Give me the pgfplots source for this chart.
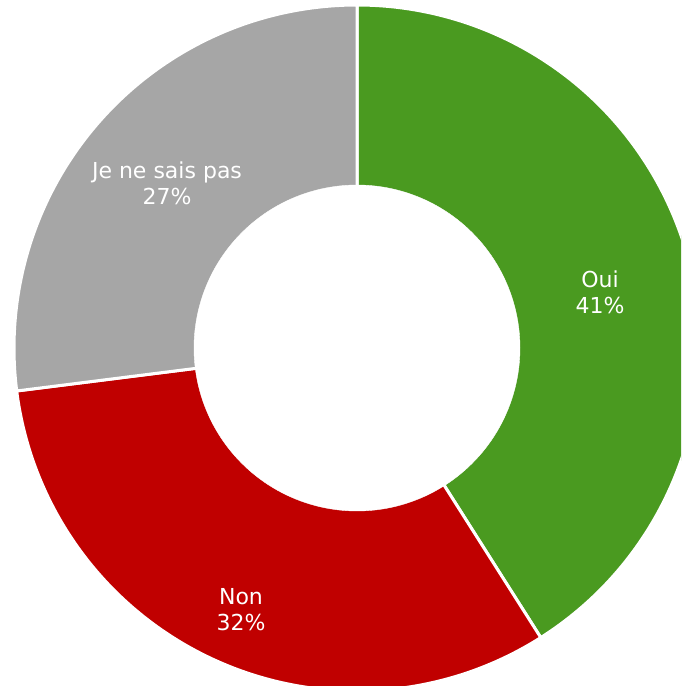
\documentclass[border=0pt]{standalone}
\usepackage{fontspec}
\setmainfont{DejaVu Sans}
\usepackage{pgfplots}
\pgfplotsset{compat=1.18}
\usepackage{pgfplotstable}
\definecolor{cOui}{HTML}{4A9A20}
\definecolor{cNon}{HTML}{C00000}
\definecolor{cNsp}{HTML}{A6A6A6}
% shares in percent
\pgfplotstableread{
label value
Oui 41
Non 32
Nsp 27
}\sharetable
\pgfplotstablegetelem{0}{value}\of\sharetable \let\vOui\pgfplotsretval
\pgfplotstablegetelem{1}{value}\of\sharetable \let\vNon\pgfplotsretval
\pgfplotstablegetelem{2}{value}\of\sharetable \let\vNsp\pgfplotsretval
\pgfmathsetmacro{\aA}{90}
\pgfmathsetmacro{\aB}{\aA-3.6*\vOui}
\pgfmathsetmacro{\aC}{\aB-3.6*\vNon}
\pgfmathsetmacro{\aD}{\aC-3.6*\vNsp}
\def\Rout{343}
\def\Rin{163}
\begin{document}
\begin{tikzpicture}
\begin{axis}[
  scale only axis, width=681pt, height=686pt,
  xmin=-357, xmax=324, ymin=-338, ymax=348,
  hide axis, clip=true,
]
\addplot[fill=cOui, draw=white, line width=3pt, line join=round, domain=\aB:\aA, samples=150]
  ({\Rout*cos(x)},{\Rout*sin(x)}) -- (axis cs:0,0) -- cycle;
\addplot[fill=cNon, draw=white, line width=3pt, line join=round, domain=\aC:\aB, samples=150]
  ({\Rout*cos(x)},{\Rout*sin(x)}) -- (axis cs:0,0) -- cycle;
\addplot[fill=cNsp, draw=white, line width=3pt, line join=round, domain=\aD:\aC, samples=150]
  ({\Rout*cos(x)},{\Rout*sin(x)}) -- (axis cs:0,0) -- cycle;
\addplot[fill=white, draw=white, domain=0:360, samples=200]
  ({\Rin*cos(x)},{\Rin*sin(x)}) -- cycle;
\addplot[only marks, mark=none, point meta=explicit symbolic,
  nodes near coords,
  nodes near coords style={anchor=center, text=white, align=center,
    font=\fontsize{22}{26}\selectfont, inner sep=0pt}]
  coordinates {
    (243,56) [Oui\\41\%]
    (-116,-262) [Non\\32\%]
    (-190,165) [Je ne sais pas\\27\%]
  };
\end{axis}
\pgfresetboundingbox
\path (current axis.south west) rectangle (current axis.north east);
\end{tikzpicture}
\end{document}
